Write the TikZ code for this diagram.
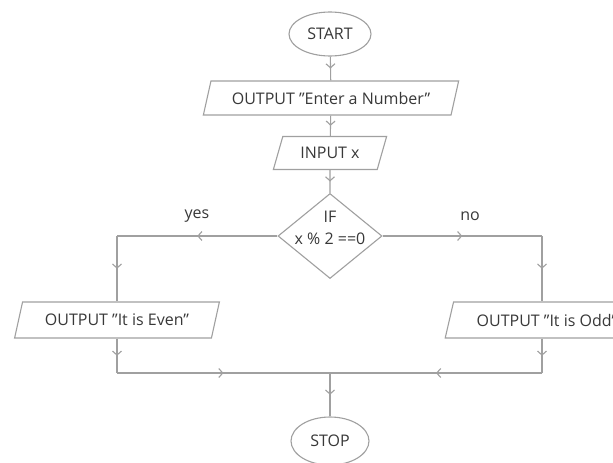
\documentclass[tikz,border=0pt]{standalone}
\usepackage{fontspec}
\setmainfont{Open Sans}
\usetikzlibrary{shapes.geometric,arrows.meta,decorations.markings}
\definecolor{ln}{HTML}{A0A0A0}
\definecolor{tx}{HTML}{383838}
\begin{document}
\begin{tikzpicture}[x=1pt,y=-1pt,
  every node/.style={text=tx,font=\fontsize{16}{20}\selectfont},
  term/.style={ellipse,draw=ln,line width=1.1pt,inner sep=0pt},
  io/.style={trapezium,trapezium left angle=63,trapezium right angle=117,trapezium stretches=true,draw=ln,line width=1.1pt,inner sep=0pt},
  decision/.style={diamond,draw=ln,line width=1.1pt,minimum width=104pt,minimum height=85pt,inner sep=0pt},
  flow/.style={draw=ln,line width=1.1pt,postaction={decorate},decoration={markings,mark=at position 0.5 with {\arrow{Straight Barb[length=4pt,width=9pt]}}}}]
\useasboundingbox[fill=white] (0,0) rectangle (613,463);
\node[term,minimum width=82pt,minimum height=44pt] (start) at (330,34) {START};
\node[io,minimum width=256pt,minimum height=34pt] (out1) at (331,98) {OUTPUT "Enter a Number"};
\node[io,minimum width=114pt,minimum height=33pt] (in1) at (330,153) {INPUT x};
\node[decision,label={[align=center,font=\fontsize{16}{22}\selectfont,yshift=8pt]center:IF\\x \% 2 ==0}] (dec) at (330,236) {};
\node[io,minimum width=205pt,minimum height=36pt] (even) at (117,320) {OUTPUT "It is Even"};
\node[io,minimum width=204pt,minimum height=36pt] (odd) at (547,320) {OUTPUT "It is Odd"};
\node[term,minimum width=78pt,minimum height=48pt] (stop) at (330,441) {STOP};
\node (yes) at (197,216) {yes};
\node (no) at (470,216) {no};
\coordinate (yl) at (117,236);
\coordinate (el) at (117,373);
\coordinate (jn) at (330,373);
\coordinate (nr) at (542,236);
\coordinate (orr) at (542,373);
\draw[flow] (start) -- (out1);
\draw[flow] (out1) -- (in1);
\draw[flow] (in1) -- (dec);
\draw[flow] (dec.west) -- (yl);
\draw[flow] (yl) -- (yl |- even.north);
\draw[flow] (yl |- even.south) -- (el);
\draw[flow] (el) -- (jn);
\draw[flow] (dec.east) -- (nr);
\draw[flow] (nr) -- (nr |- odd.north);
\draw[flow] (nr |- odd.south) -- (orr);
\draw[flow] (orr) -- (jn);
\draw[flow] (jn) -- (stop);
\end{tikzpicture}
\end{document}
